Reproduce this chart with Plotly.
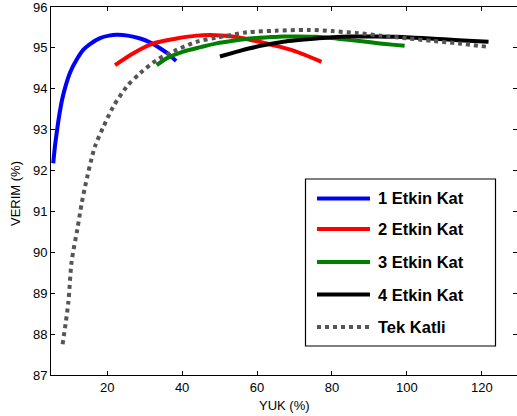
import plotly.graph_objects as go

# ---- data ----
blue_x = [5.6, 6.0, 6.5, 7.2, 8.0, 9.0, 10.1, 11.9, 13.6, 15.5, 18.1, 20.5, 22.5, 25.5, 28.8, 31.5, 34.1, 36.3, 38.4]
blue_y = [92.18, 92.55, 92.91, 93.35, 93.75, 94.1, 94.4, 94.72, 94.95, 95.1, 95.24, 95.3, 95.32, 95.3, 95.23, 95.13, 94.99, 94.85, 94.68]

red_x = [22.1, 27.0, 32.3, 38.5, 43.9, 49.0, 54.0, 58.0, 62.0, 66.0, 69.5, 73.0, 77.2]
red_y = [94.58, 94.87, 95.11, 95.23, 95.3, 95.31, 95.27, 95.2, 95.12, 95.03, 94.94, 94.82, 94.66]

green_x = [33.2, 36.0, 40.3, 45.0, 49.2, 54.0, 58.1, 63.0, 67.0, 71.0, 75.9, 80.0, 83.0, 88.0, 92.8, 96.0, 99.4]
green_y = [94.58, 94.75, 94.91, 95.02, 95.11, 95.18, 95.23, 95.26, 95.28, 95.28, 95.27, 95.24, 95.21, 95.16, 95.11, 95.08, 95.05]

black_x = [50.1, 54.0, 58.1, 62.0, 67.0, 71.0, 75.9, 80.0, 84.8, 88.4, 92.0, 97.3, 102.0, 106.2, 110.0, 115.1, 121.8]
black_y = [94.79, 94.89, 94.99, 95.07, 95.15, 95.19, 95.23, 95.26, 95.28, 95.28, 95.28, 95.27, 95.25, 95.23, 95.21, 95.18, 95.15]

tek_x = [8.1, 9.6, 10.5, 12.0, 13.2, 14.1, 16.7, 19.0, 21.6, 25.2, 28.8, 33.2, 38.5, 43.9, 49.2, 57.3, 65.0, 73.6, 80.0, 87.0, 93.0, 100.3, 107.0, 113.7, 121.2]
tek_y = [87.75, 88.75, 89.77, 90.55, 91.2, 91.61, 92.58, 93.07, 93.56, 94.05, 94.38, 94.7, 94.95, 95.15, 95.25, 95.38, 95.42, 95.44, 95.41, 95.36, 95.3, 95.23, 95.17, 95.11, 95.03]

series_names = ["1 Etkin Kat", "2 Etkin Kat", "3 Etkin Kat", "4 Etkin Kat", "Tek Katli"]
x_ticks = [20, 40, 60, 80, 100, 120]
y_ticks = [87, 88, 89, 90, 91, 92, 93, 94, 95, 96]

colors = ["#0000ff", "#ff0000", "#008000", "#000000", "#555555"]
dashes = ["solid", "solid", "solid", "solid", "4px,4px"]
xs = [blue_x, red_x, green_x, black_x, tek_x]
ys = [blue_y, red_y, green_y, black_y, tek_y]

W, H = 517, 416
L, R, T, B = 51, 0, 7, 41
PW, PH = W - L - R, H - T - B


def px(x):
    return (x - L) / PW


def py(y):
    return (H - B - y) / PH


fig = go.Figure()
for i in range(5):
    fig.add_trace(go.Scatter(
        x=xs[i], y=ys[i], mode="lines", name=series_names[i],
        line=dict(color=colors[i], width=4, dash=dashes[i], shape="spline", smoothing=0.8),
        showlegend=False, hoverinfo="skip"))

# invisible trace for right-hand tick axis
fig.add_trace(go.Scatter(x=[50], y=[90], yaxis="y2", mode="markers",
                         marker=dict(opacity=0), showlegend=False, hoverinfo="skip"))

font = dict(family="Liberation Sans, Arial, sans-serif", size=13, color="#000")

fig.update_layout(
    width=W, height=H,
    margin=dict(l=L, r=R, t=T, b=B, pad=0),
    paper_bgcolor="white", plot_bgcolor="white",
    font=font,
    xaxis=dict(range=[5, 129.4], tickvals=x_ticks, ticks="inside", ticklen=4,
               tickcolor="#000", showline=True, linecolor="#000", linewidth=1,
               mirror="ticks", showgrid=False, zeroline=False, tickfont=font,
               ticklabeloverflow="allow"),
    yaxis=dict(range=[87, 96], tickvals=y_ticks, ticks="inside", ticklen=4,
               tickcolor="#000", showline=True, linecolor="#000", linewidth=1,
               mirror=False, showgrid=False, zeroline=False, tickfont=font,
               ticklabeloverflow="allow"),
    yaxis2=dict(range=[87, 96], tickvals=y_ticks, overlaying="y", side="right",
                ticks="inside", ticklen=4, tickcolor="#000", showline=False,
                showticklabels=False, showgrid=False, zeroline=False),
    showlegend=False,
)

# axis titles
fig.add_annotation(text="VERIM (%)", textangle=-90, xref="paper", yref="paper",
                   x=px(15), y=py(194), showarrow=False, font=font,
                   xanchor="center", yanchor="middle")
fig.add_annotation(text="YUK (%)", xref="paper", yref="paper",
                   x=px(284), y=py(405), showarrow=False, font=font,
                   xanchor="center", yanchor="middle")

# manual legend box (MATLAB style)
fig.add_shape(type="rect", xref="paper", yref="paper",
              x0=px(305.5), x1=px(495.5), y0=py(346), y1=py(179),
              line=dict(color="#000", width=1.2), fillcolor="white", layer="above")
entry_y = [198.5, 229, 262, 294.5, 327]
legend_font = dict(family="Liberation Sans, Arial, sans-serif", size=16.5, color="#000")
for i in range(5):
    fig.add_shape(type="line", xref="paper", yref="paper",
                  x0=px(317), x1=px(370), y0=py(entry_y[i]), y1=py(entry_y[i]),
                  line=dict(color=colors[i], width=4, dash=dashes[i]), layer="above")
    fig.add_annotation(text="<b>%s</b>" % series_names[i], xref="paper", yref="paper",
                       x=px(376), y=py(entry_y[i]), showarrow=False, font=legend_font,
                       xanchor="left", yanchor="middle")

fig.write_html("out.html")
